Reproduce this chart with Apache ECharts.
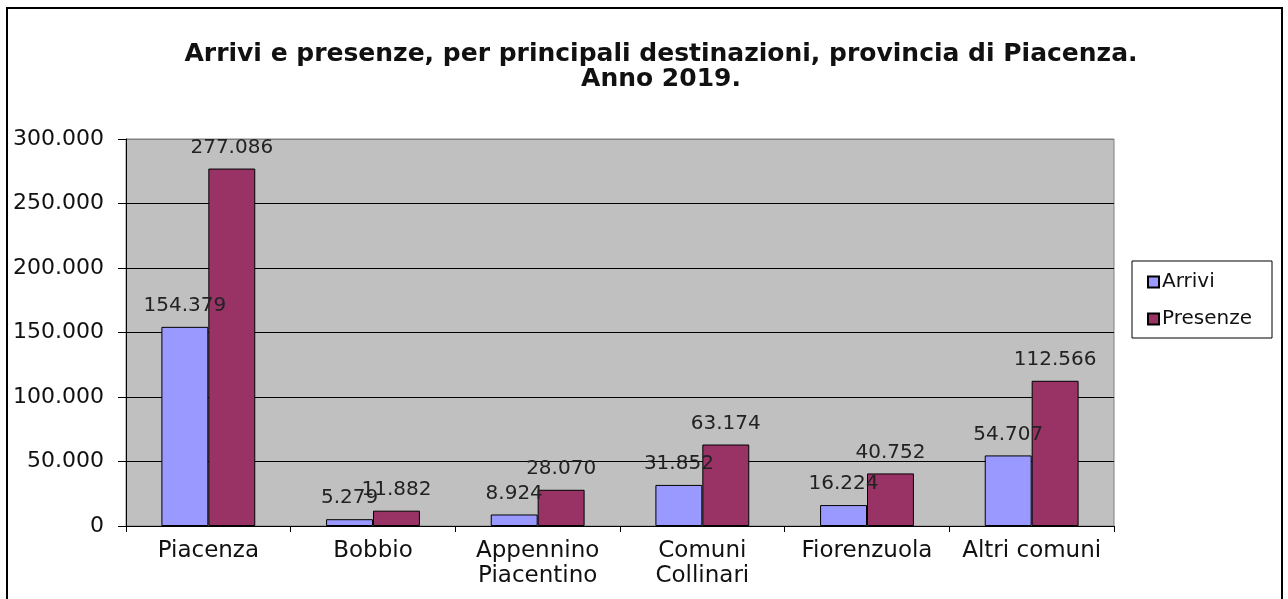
<!DOCTYPE html>
<html>
<head>
<meta charset="utf-8">
<script src="https://cdn.jsdelivr.net/npm/echarts@6/dist/echarts.min.js"></script>
<style>
  html, body { margin: 0; padding: 0; background: #fff; }
  #chart { width: 1288px; height: 599px; }
</style>
</head>
<body>
<div id="chart"></div>
<script>
const categories = ['Piacenza', 'Bobbio', 'Appennino\nPiacentino', 'Comuni\nCollinari', 'Fiorenzuola', 'Altri comuni']
const arrivi = [154379, 5279, 8924, 31852, 16224, 54707]
const presenze = [277086, 11882, 28070, 63174, 40752, 112566]
const yTicks = [0, 50000, 100000, 150000, 200000, 250000, 300000]

// formato italiano: punto come separatore delle migliaia
const fmt = v => String(v).replace(/\B(?=(\d{3})+(?!\d))/g, '.')

const font = 'DejaVu Sans'
const myChart = echarts.init(document.getElementById('chart'))

const option = {
  backgroundColor: '#fff',
  animation: false,
  title: {
    text: 'Arrivi e presenze, per principali destinazioni, provincia di Piacenza.\nAnno 2019.',
    left: 656,
    top: 37,
    textAlign: 'center',
    textStyle: { fontFamily: font, fontWeight: 'bold', fontSize: 25, lineHeight: 25, color: '#111' }
  },
  legend: {
    orient: 'vertical',
    left: 1132,
    top: 261,
    padding: [11, 20, 9, 15],
    itemGap: 17,
    itemWidth: 11,
    itemHeight: 11,
    borderColor: '#000',
    borderWidth: 1,
    icon: 'rect',
    textStyle: { fontFamily: font, fontSize: 20, color: '#111', padding: [0, 0, 0, -2] },
    data: ['Arrivi', 'Presenze']
  },
  graphic: [{
    type: 'rect',
    shape: { x: 7, y: 8, width: 1275, height: 620 },
    style: { fill: 'none', stroke: '#000', lineWidth: 2 },
    z: 100
  }],
  grid: {
    left: 126,
    right: 174,
    top: 139,
    bottom: 73,
    show: true,
    backgroundColor: '#c0c0c0',
    borderColor: '#808080',
    borderWidth: 1
  },
  xAxis: {
    type: 'category',
    data: categories,
    axisLine: { lineStyle: { color: '#000', width: 1 } },
    axisTick: { show: true, length: 6, lineStyle: { color: '#000' } },
    axisLabel: { fontFamily: font, fontSize: 23, color: '#111', margin: 13, lineHeight: 25, interval: 0 }
  },
  yAxis: {
    type: 'value',
    min: yTicks[0],
    max: yTicks[yTicks.length - 1],
    interval: 50000,
    axisLine: { show: true, lineStyle: { color: '#000', width: 1 } },
    axisTick: { show: true, length: 8, lineStyle: { color: '#000' } },
    axisLabel: { fontFamily: font, fontSize: 22, color: '#111', margin: 22, formatter: fmt },
    splitLine: {
      show: true,
      lineStyle: { color: ['#000', '#000', '#000', '#000', '#000', '#000', '#808080'], width: 1 }
    }
  },
  series: [
    {
      name: 'Arrivi',
      type: 'bar',
      data: arrivi,
      barGap: '0%',
      barCategoryGap: '43%',
      itemStyle: { color: '#9999ff', borderColor: '#000', borderWidth: 1 },
      label: { show: true, position: 'top', distance: 11, fontFamily: font, fontSize: 20, color: '#222', formatter: p => fmt(p.value) }
    },
    {
      name: 'Presenze',
      type: 'bar',
      data: presenze,
      itemStyle: { color: '#993366', borderColor: '#000', borderWidth: 1 },
      label: { show: true, position: 'top', distance: 11, fontFamily: font, fontSize: 20, color: '#222', formatter: p => fmt(p.value) }
    }
  ]
}

myChart.setOption(option)
</script>
</body>
</html>
